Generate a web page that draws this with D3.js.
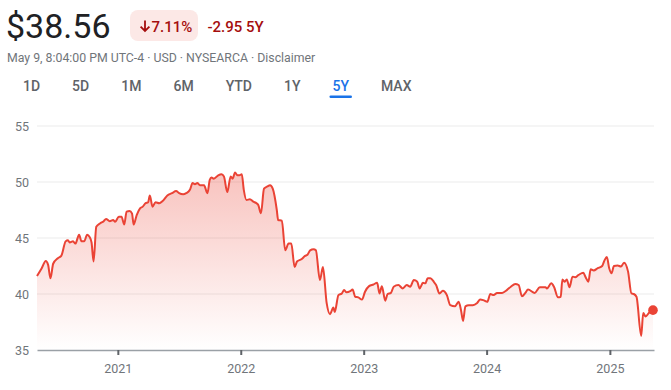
<!DOCTYPE html>
<html>
  <head>
    <meta charset="utf-8">
    <title>5Y chart</title>
    <script src="https://d3js.org/d3.v7.min.js"></script>
    <style>
      body { margin: 0; background: #fff; font-family: Roboto, Arial, sans-serif; }
    </style>
  </head>

  <body>
    <div class="chart"></div>

    <script>
      // closing prices
      var dates = [
        "2020-05-06","2020-05-20","2020-06-01","2020-06-08","2020-06-15","2020-06-23","2020-07-07","2020-07-17",
        "2020-07-30","2020-08-06","2020-08-11","2020-08-21","2020-08-28","2020-09-08","2020-09-15","2020-09-23",
        "2020-10-02","2020-10-09","2020-10-15","2020-10-21","2020-10-29","2020-11-09","2020-11-20","2020-11-27",
        "2020-12-08","2020-12-18","2020-12-24",
        "2021-01-04","2021-01-12","2021-01-20","2021-01-27","2021-02-05","2021-02-12","2021-02-17","2021-02-26",
        "2021-03-08","2021-03-16","2021-03-24","2021-04-01","2021-04-06","2021-04-14","2021-04-23","2021-05-04",
        "2021-05-14","2021-05-28","2021-06-11","2021-06-23","2021-07-02","2021-07-14","2021-07-23","2021-08-03",
        "2021-08-11","2021-08-18","2021-08-25","2021-09-02","2021-09-14","2021-09-24","2021-10-01","2021-10-06",
        "2021-10-13","2021-10-26","2021-11-05","2021-11-12","2021-11-22","2021-12-02","2021-12-08","2021-12-15",
        "2021-12-22","2021-12-28",
        "2022-01-04","2022-01-10","2022-01-18","2022-01-28","2022-02-07","2022-02-17","2022-02-22","2022-03-02",
        "2022-03-11","2022-03-21","2022-03-29","2022-04-06","2022-04-18","2022-04-22","2022-05-03","2022-05-13",
        "2022-05-23","2022-05-31","2022-06-10","2022-06-17","2022-06-30","2022-07-11","2022-07-18","2022-07-26",
        "2022-08-05","2022-08-12","2022-08-24","2022-09-02","2022-09-13","2022-09-23","2022-10-03","2022-10-07",
        "2022-10-18","2022-10-28","2022-11-04","2022-11-11","2022-11-22","2022-11-29","2022-12-07","2022-12-16",
        "2022-12-27",
        "2023-01-05","2023-01-17","2023-01-30","2023-02-10","2023-02-17","2023-02-24","2023-03-06","2023-03-13",
        "2023-03-23","2023-03-31","2023-04-14","2023-04-27","2023-05-09","2023-05-19","2023-05-30","2023-06-09",
        "2023-06-16","2023-06-26","2023-07-03","2023-07-10","2023-07-18","2023-07-28","2023-08-04","2023-08-14",
        "2023-08-24","2023-09-05","2023-09-15","2023-09-29","2023-10-10","2023-10-17","2023-10-23","2023-10-30",
        "2023-11-09","2023-11-21","2023-12-04","2023-12-13","2023-12-22",
        "2024-01-03","2024-01-12","2024-01-22","2024-02-01","2024-02-16","2024-03-01","2024-03-13","2024-03-26",
        "2024-04-05","2024-04-15","2024-04-25","2024-05-03","2024-05-23","2024-06-07","2024-06-24","2024-06-28",
        "2024-07-11","2024-07-19","2024-07-31","2024-08-08","2024-08-13","2024-08-20","2024-08-26","2024-09-03",
        "2024-09-12","2024-09-20","2024-09-30","2024-10-14","2024-10-21","2024-10-29","2024-11-05","2024-11-14",
        "2024-11-26","2024-12-09","2024-12-16","2024-12-23","2024-12-30",
        "2025-01-06","2025-01-13","2025-01-24","2025-02-03","2025-02-12","2025-02-24","2025-03-06","2025-03-13",
        "2025-03-21","2025-04-04","2025-04-10","2025-04-17","2025-04-28","2025-05-05","2025-05-09"
      ];
      var prices = [
        41.6,42.3,42.95,42.6,41.4,42.7,43.2,43.4,
        44.7,44.8,44.6,44.7,44.5,45.3,44.7,44.7,
        45.3,45.1,44.6,42.9,46.0,46.3,46.5,46.7,
        46.5,46.6,46.45,
        46.9,46.9,46.2,47.35,47.4,47.2,46.2,47.05,
        47.65,47.8,48.1,48.2,48.8,47.8,48.2,48.1,
        48.3,48.8,49.0,49.2,49.0,48.9,49.0,49.3,
        49.9,49.8,49.9,49.7,49.7,49.0,50.2,50.4,
        50.3,50.6,50.7,50.5,49.1,50.5,50.3,50.85,
        50.6,50.6,
        50.7,49.3,48.4,48.45,48.25,48.1,47.95,47.2,
        49.4,49.6,49.7,49.4,47.5,46.6,46.55,43.9,
        44.5,44.5,42.4,42.9,43.1,43.4,43.5,43.9,
        44.0,43.9,41.25,42.4,39.2,38.2,38.8,38.4,
        39.9,40.05,40.35,40.15,40.25,40.4,39.75,39.7,
        39.5,
        40.2,40.7,40.85,41.0,40.05,40.7,39.4,40.0,
        40.1,40.65,40.8,40.5,40.8,40.65,41.25,41.1,
        40.5,41.0,40.95,41.4,41.4,41.1,40.8,40.05,
        40.3,39.9,39.0,38.9,39.3,38.55,37.6,38.9,
        39.0,39.0,39.2,39.5,39.45,
        39.3,40.0,39.9,40.1,40.1,40.35,40.65,40.9,
        40.8,39.8,40.1,40.4,40.1,40.6,40.6,40.5,
        40.95,40.65,39.7,39.75,41.3,41.1,41.3,40.6,
        41.55,41.5,41.7,41.9,41.5,41.1,42.2,42.1,
        42.3,42.5,43.0,43.3,42.3,
        41.85,42.5,42.55,42.45,42.8,42.0,40.05,40.0,
        39.75,36.25,38.3,38.0,38.35,38.5,38.56
      ];
      var yTicks = [35, 40, 45, 50, 55];
      var xTickYears = ["2021", "2022", "2023", "2024", "2025"];
      var tabs = ["1D", "5D", "1M", "6M", "YTD", "1Y", "5Y", "MAX"];
      var activeTab = "5Y";

      var parse = d3.timeParse("%Y-%m-%d");
      var data = dates.map(function (d, i) { return { date: parse(d), price: prices[i] }; });

      var width = 671, height = 390;
      var svg = d3.select("div.chart").append("svg")
        .attr("width", width)
        .attr("height", height)
        .style("font-family", "Roboto, Arial, sans-serif");

      //header
      svg.append("text").attr("x", 6).attr("y", 38)
        .attr("font-size", 34).attr("fill", "#202124")
        .text("$38.56");

      svg.append("rect").attr("x", 130).attr("y", 10).attr("width", 68).attr("height", 31)
        .attr("rx", 8).attr("fill", "#fce8e6");
      // down arrow
      svg.append("path")
        .attr("d", "M145,20.5V31M140.6,26.6L145,31L149.4,26.6")
        .attr("fill", "none").attr("stroke", "#a50e0e").attr("stroke-width", 1.8);
      svg.append("text").attr("x", 151.5).attr("y", 31.5)
        .attr("font-size", 15).attr("font-weight", 500).attr("fill", "#a50e0e")
        .text("7.11%");
      svg.append("text").attr("x", 207.5).attr("y", 31.5)
        .attr("font-size", 15).attr("font-weight", 500).attr("fill", "#a50e0e")
        .text("-2.95 5Y");

      svg.append("text").attr("x", 7).attr("y", 62)
        .attr("font-size", 12.3).attr("fill", "#70757a")
        .text("May 9, 8:04:00 PM UTC-4 \u00b7 USD \u00b7 NYSEARCA \u00b7 Disclaimer");

      //range tabs, laid out by text width
      var tabText = svg.selectAll("text.tab").data(tabs).enter().append("text")
        .attr("class", "tab")
        .attr("y", 91)
        .attr("font-size", 14)
        .attr("font-weight", 500)
        .attr("fill", function (d) { return d === activeTab ? "#1a73e8" : "#5f6368"; })
        .text(function (d) { return d; });
      var tx = 23, activeBox = null;
      tabText.each(function (d) {
        var w = this.getComputedTextLength();
        d3.select(this).attr("x", tx);
        if (d === activeTab) activeBox = [tx, w];
        tx += w + 32;
      });
      svg.append("rect")
        .attr("x", activeBox[0] - 3).attr("y", 95.5)
        .attr("width", activeBox[1] + 6).attr("height", 2.5).attr("rx", 1.2)
        .attr("fill", "#1a73e8");

      //scales
      var x = d3.scaleTime()
        .domain([parse("2020-05-06"), parse("2025-05-12")])
        .range([37, 654]);
      var y = d3.scaleLinear().domain([35, 55]).range([350, 126]);

      //grid
      svg.selectAll("line.grid").data(yTicks.slice(1)).enter().append("line")
        .attr("class", "grid")
        .attr("x1", 37).attr("x2", 654)
        .attr("y1", function (d) { return y(d); })
        .attr("y2", function (d) { return y(d); })
        .attr("stroke", "#ebebeb").attr("stroke-width", 1);

      svg.selectAll("text.ylab").data(yTicks).enter().append("text")
        .attr("class", "ylab")
        .attr("x", 29)
        .attr("y", function (d) { return y(d) + 4.5; })
        .attr("text-anchor", "end")
        .attr("font-size", 12.5)
        .attr("fill", "#70757a")
        .text(function (d) { return d; });

      //area gradient
      var grad = svg.append("defs").append("linearGradient")
        .attr("id", "fade").attr("gradientUnits", "userSpaceOnUse")
        .attr("x1", 0).attr("x2", 0).attr("y1", y(d3.max(prices))).attr("y2", 350);
      grad.append("stop").attr("offset", "0%").attr("stop-color", "#ea4335").attr("stop-opacity", 0.32);
      grad.append("stop").attr("offset", "100%").attr("stop-color", "#ea4335").attr("stop-opacity", 0);

      var area = d3.area()
        .x(function (d) { return x(d.date); })
        .y0(350)
        .y1(function (d) { return y(d.price); })
        .curve(d3.curveMonotoneX);
      var line = d3.line()
        .x(function (d) { return x(d.date); })
        .y(function (d) { return y(d.price); })
        .curve(d3.curveMonotoneX);

      svg.append("path").datum(data).attr("d", area).attr("fill", "url(#fade)");
      svg.append("path").datum(data).attr("d", line)
        .attr("fill", "none").attr("stroke", "#ea4335").attr("stroke-width", 2)
        .attr("stroke-linejoin", "round");

      //x axis
      var xAxis = d3.axisBottom(x)
        .tickValues(xTickYears.map(function (yr) { return parse(yr + "-01-01"); }))
        .tickFormat(d3.timeFormat("%Y"))
        .tickSizeInner(5).tickSizeOuter(0).tickPadding(9);
      var gx = svg.append("g").attr("transform", "translate(0,350)").call(xAxis);
      gx.select(".domain").attr("stroke", "#9aa0a6").attr("stroke-width", 1.5);
      gx.selectAll(".tick line").attr("stroke", "#5f6368").attr("stroke-width", 2);
      gx.selectAll(".tick text").attr("fill", "#70757a").attr("font-size", 12.5)
        .attr("font-family", "Roboto, Arial, sans-serif");

      //last price dot
      var last = data[data.length - 1];
      svg.append("circle")
        .attr("cx", x(last.date)).attr("cy", y(last.price)).attr("r", 4.8)
        .attr("fill", "#ea4335");
    </script>
  </body>
</html>
